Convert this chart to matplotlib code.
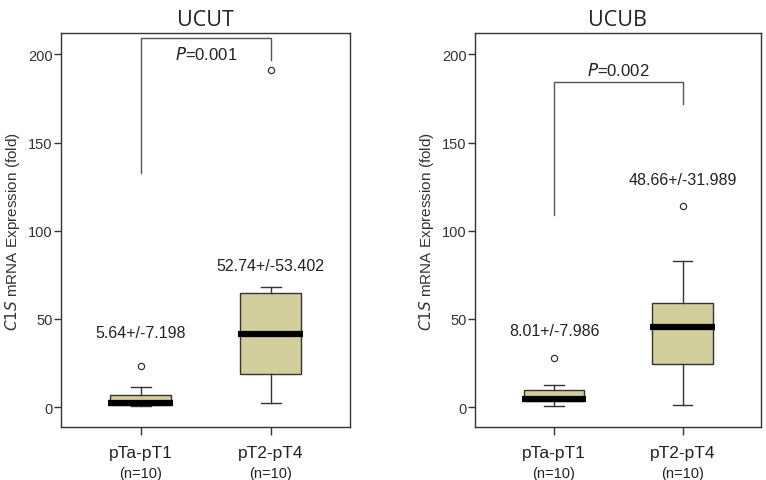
import matplotlib.pyplot as plt

plt.rcParams['font.family'] = ['Liberation Sans', 'DejaVu Sans']

groups = ['pTa-pT1', 'pT2-pT4']
counts = ['(n=10)', '(n=10)']
titles = ['UCUT', 'UCUB']

# box stats: whislo, q1, med, q3, whishi, outliers
ucut = [(0.5, 1.0, 2.3, 6.8, 11.3, [23.2]),
        (2.3, 19.0, 41.4, 64.6, 68.0, [191.0])]
ucub = [(0.8, 3.5, 4.9, 9.8, 12.5, [28.0]),
        (1.3, 24.5, 45.4, 59.0, 83.0, [114.0])]

mean_sd = [['5.64+/-7.198', '52.74+/-53.402'],
           ['8.01+/-7.986', '48.66+/-31.989']]
label_y = [[42.5, 80.5], [43.6, 129.0]]

p_text = ['0.001', '0.002']
# bracket: left leg bottom, top, right leg bottom
brackets = [(133, 209, 196.6), (109, 184.5, 172)]
p_y = [200.5, 191.5]

fig = plt.figure(figsize=(7.66, 4.81), dpi=100)
axes = [fig.add_axes([0.0796, 0.110, 0.377, 0.819]),
        fig.add_axes([0.620, 0.110, 0.373, 0.819])]

for k, (ax, data) in enumerate(zip(axes, [ucut, ucub])):
    stats = []
    for lo, q1, med, q3, hi, fl in data:
        stats.append(dict(whislo=lo, q1=q1, med=med, q3=q3, whishi=hi, fliers=fl))
    ax.bxp(stats, positions=[1, 2], widths=0.47, patch_artist=True,
           showfliers=True, capwidths=0.15,
           boxprops=dict(facecolor='#d3cf9c', edgecolor='#333333', linewidth=1),
           medianprops=dict(color='black', linewidth=4.5, solid_capstyle='butt'),
           whiskerprops=dict(color='#333333', linewidth=1),
           capprops=dict(color='#333333', linewidth=1),
           flierprops=dict(marker='o', markersize=4.5, markerfacecolor='white',
                           markeredgecolor='#333333', markeredgewidth=0.9))
    # widen median lines slightly past the box
    for line in ax.lines:
        xd = line.get_xdata()
        if line.get_linewidth() > 3:
            line.set_xdata([xd[0] - 0.015, xd[1] + 0.015])

    ax.set_xlim(0.385, 2.607)
    ax.set_ylim(-11.3, 212)
    ax.set_yticks([0, 50, 100, 150, 200])
    ax.set_xticks([1, 2])
    ax.set_xticklabels(['' for g in groups])
    ax.tick_params(axis='y', labelsize=10.5, colors='#333333', length=5, width=1,
                   pad=1)
    ax.tick_params(axis='x', length=6, width=1, colors='#333333')
    for s in ax.spines.values():
        s.set_color('#333333')
        s.set_linewidth(1)

    for i, g in enumerate(groups):
        ax.text(i + 1, -0.045, g, transform=ax.get_xaxis_transform(),
                ha='center', va='top', fontsize=12.5, color='#222222')
        ax.text(i + 1, -0.098, counts[i], transform=ax.get_xaxis_transform(),
                ha='center', va='top', fontsize=10.5, color='#222222')
        ax.text(i + 1, label_y[k][i], mean_sd[k][i], ha='center', va='center',
                fontsize=11.5, color='#222222')

    b0, btop, b1 = brackets[k]
    ax.plot([1, 1, 2, 2], [b0, btop, btop, b1], color='#555555', linewidth=1)
    ax.text(1.5, p_y[k], '$\\mathit{P}$=' + p_text[k], ha='center', va='center',
            fontsize=12, color='#222222')

    ax.set_title(titles[k], fontsize=15.5, pad=6, color='#222222',
                 family=['Open Sans', 'DejaVu Sans'])
    ax.set_ylabel('$\\mathit{C1S}$ mRNA Expression (fold)', fontsize=11,
                  color='#333333', labelpad=4)

fig.savefig('out.png', dpi=100)
